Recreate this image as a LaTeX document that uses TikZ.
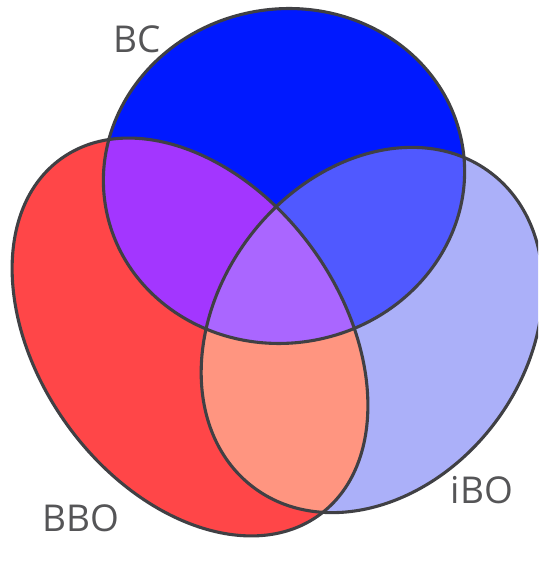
\documentclass[tikz,border=0pt]{standalone}
\usepackage{fontspec}
\setmainfont{Open Sans}
\definecolor{cBC}{HTML}{0019FF}
\definecolor{cBBO}{HTML}{FF4648}
\definecolor{cIBO}{HTML}{ABB0F9}
\definecolor{cBCBBO}{HTML}{A336FF}
\definecolor{cBCIBO}{HTML}{5059FF}
\definecolor{cBBOIBO}{HTML}{FF9580}
\definecolor{cALL}{HTML}{AA66FF}
\definecolor{cLine}{HTML}{404044}
\definecolor{cText}{HTML}{555557}
\begin{document}
\begin{tikzpicture}[x=1pt,y=1pt,
  outline/.style={draw=cLine,line width=3.1pt},
  setlabel/.style={text=cText,font=\fontsize{37}{37}\selectfont,inner sep=0pt}]
\useasboundingbox (0,0) rectangle (538,561);
\clip (0,0) rectangle (538,561);
\def\BBOpath{(190,224) ellipse [x radius=220, y radius=151, rotate=-54]}
\def\IBOpath{(372,231) ellipse [x radius=197, y radius=154, rotate=53]}
\def\BCpath{(284,385) ellipse [x radius=181, y radius=167, rotate=10]}
% single sets
\fill[cBBO] \BBOpath;
\fill[cIBO] \IBOpath;
\fill[cBC] \BCpath;
% pairwise
\begin{scope}\clip \BBOpath; \fill[cBCBBO] \BCpath; \end{scope}
\begin{scope}\clip \BCpath; \fill[cBCIBO] \IBOpath; \end{scope}
\begin{scope}\clip \BBOpath; \fill[cBBOIBO] \IBOpath; \end{scope}
% triple
\begin{scope}\clip \BBOpath; \clip \BCpath; \fill[cALL] \IBOpath; \end{scope}
% outlines
\draw[outline] \BBOpath;
\draw[outline] \IBOpath;
\draw[outline] \BCpath;
% labels
\node[setlabel] (lbc) at (137,522) {BC};
\node[setlabel] (lbbo) at (81,43) {BBO};
\node[setlabel] (libo) at (482,71) {iBO};
\end{tikzpicture}
\end{document}
